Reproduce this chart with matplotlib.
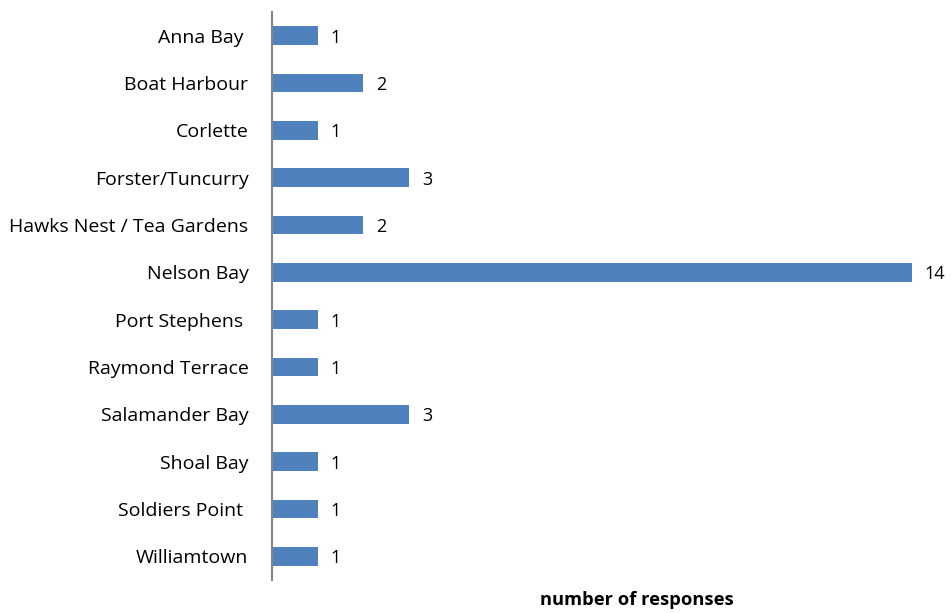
import matplotlib.pyplot as plt

plt.rcParams['font.family'] = ['Open Sans', 'DejaVu Sans']

locations = ["Anna Bay ", "Boat Harbour", "Corlette", "Forster/Tuncurry",
             "Hawks Nest / Tea Gardens", "Nelson Bay", "Port Stephens ",
             "Raymond Terrace", "Salamander Bay", "Shoal Bay",
             "Soldiers Point ", "Williamtown"]
responses = [1, 2, 1, 3, 2, 14, 1, 1, 3, 1, 1, 1]

W, H = 951, 613
fig = plt.figure(figsize=(W / 100, H / 100), dpi=100)
ax = fig.add_axes([272 / W, 1 - 580 / H, (W - 272) / W, 568 / H])

ypos = list(range(len(locations)))
ax.barh(ypos, responses, height=0.40, color='#4F81BD')
ax.set_xlim(0, (W - 272) / 45.7)
ax.set_ylim(len(locations) - 0.5, -0.5)

for y, v in zip(ypos, responses):
    ax.text(v + 0.28, y, str(v), va='center_baseline', ha='left', fontsize=13, color='black')

ax.set_yticks(ypos)
ax.set_yticklabels(locations, fontsize=14, va='center_baseline')
ax.tick_params(axis='y', length=0, pad=17)
ax.set_xticks([])
for s in ['top', 'right', 'bottom']:
    ax.spines[s].set_visible(False)
ax.spines['left'].set_color('#868686')
ax.spines['left'].set_linewidth(1.5)

fig.text(637 / W, 1 - 600 / H, "number of responses", ha='center', va='center',
         fontsize=13.2, fontweight='bold')

fig.savefig("out.png", dpi=100)
